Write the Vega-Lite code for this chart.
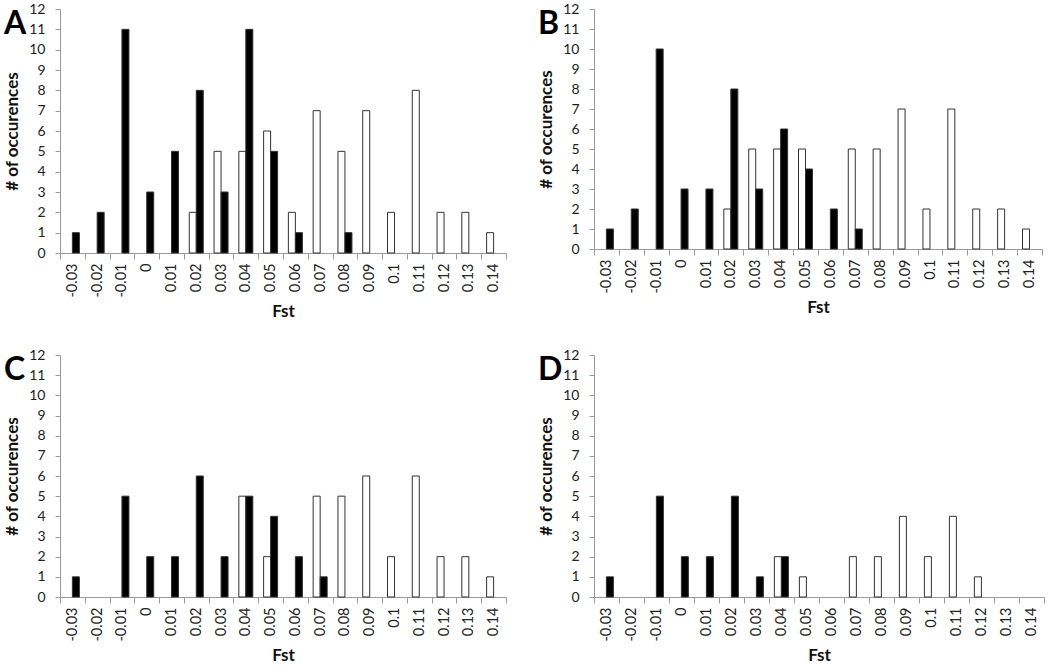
{
  "$schema": "https://vega.github.io/schema/vega-lite/v6.json",
  "padding": {"left": 3, "top": 2, "right": 2, "bottom": 2},
  "background": "white",
  "bounds": "flush",
  "columns": 2,
  "spacing": {"row": 102, "column": 88},
  "config": {
    "font": "Lato",
    "view": {"stroke": null},
    "axis": {"domainColor": "#9a9a9a", "tickColor": "#9a9a9a", "labelColor": "#222222", "titleColor": "#111111", "grid": false, "titleFontWeight": "bold", "titleFontSize": 17, "labelFont": "Lato", "titleFont": "Lato"},
    "axisX": {"labelAngle": -90, "labelFontSize": 14.5, "tickSize": 6, "labelPadding": 4, "titlePadding": 6, "tickBand": "extent"},
    "axisY": {"labelFontSize": 14, "tickSize": 5, "labelPadding": 10, "titlePadding": 7},
    "title": {"anchor": "start", "frame": "group", "fontSize": 32, "fontWeight": "bold", "color": "#000000", "offset": 0, "baseline": "alphabetic", "dx": -56, "dy": 43, "font": "Lato"}
  },
  "data": {"values": [
    {"panel": "A", "series": "white", "fst": "0.02", "count": 2},
    {"panel": "A", "series": "white", "fst": "0.03", "count": 5},
    {"panel": "A", "series": "white", "fst": "0.04", "count": 5},
    {"panel": "A", "series": "white", "fst": "0.05", "count": 6},
    {"panel": "A", "series": "white", "fst": "0.06", "count": 2},
    {"panel": "A", "series": "white", "fst": "0.07", "count": 7},
    {"panel": "A", "series": "white", "fst": "0.08", "count": 5},
    {"panel": "A", "series": "white", "fst": "0.09", "count": 7},
    {"panel": "A", "series": "white", "fst": "0.1", "count": 2},
    {"panel": "A", "series": "white", "fst": "0.11", "count": 8},
    {"panel": "A", "series": "white", "fst": "0.12", "count": 2},
    {"panel": "A", "series": "white", "fst": "0.13", "count": 2},
    {"panel": "A", "series": "white", "fst": "0.14", "count": 1},
    {"panel": "A", "series": "black", "fst": "-0.03", "count": 1},
    {"panel": "A", "series": "black", "fst": "-0.02", "count": 2},
    {"panel": "A", "series": "black", "fst": "-0.01", "count": 11},
    {"panel": "A", "series": "black", "fst": "0", "count": 3},
    {"panel": "A", "series": "black", "fst": "0.01", "count": 5},
    {"panel": "A", "series": "black", "fst": "0.02", "count": 8},
    {"panel": "A", "series": "black", "fst": "0.03", "count": 3},
    {"panel": "A", "series": "black", "fst": "0.04", "count": 11},
    {"panel": "A", "series": "black", "fst": "0.05", "count": 5},
    {"panel": "A", "series": "black", "fst": "0.06", "count": 1},
    {"panel": "A", "series": "black", "fst": "0.08", "count": 1},

    {"panel": "B", "series": "white", "fst": "0.02", "count": 2},
    {"panel": "B", "series": "white", "fst": "0.03", "count": 5},
    {"panel": "B", "series": "white", "fst": "0.04", "count": 5},
    {"panel": "B", "series": "white", "fst": "0.05", "count": 5},
    {"panel": "B", "series": "white", "fst": "0.07", "count": 5},
    {"panel": "B", "series": "white", "fst": "0.08", "count": 5},
    {"panel": "B", "series": "white", "fst": "0.09", "count": 7},
    {"panel": "B", "series": "white", "fst": "0.1", "count": 2},
    {"panel": "B", "series": "white", "fst": "0.11", "count": 7},
    {"panel": "B", "series": "white", "fst": "0.12", "count": 2},
    {"panel": "B", "series": "white", "fst": "0.13", "count": 2},
    {"panel": "B", "series": "white", "fst": "0.14", "count": 1},
    {"panel": "B", "series": "black", "fst": "-0.03", "count": 1},
    {"panel": "B", "series": "black", "fst": "-0.02", "count": 2},
    {"panel": "B", "series": "black", "fst": "-0.01", "count": 10},
    {"panel": "B", "series": "black", "fst": "0", "count": 3},
    {"panel": "B", "series": "black", "fst": "0.01", "count": 3},
    {"panel": "B", "series": "black", "fst": "0.02", "count": 8},
    {"panel": "B", "series": "black", "fst": "0.03", "count": 3},
    {"panel": "B", "series": "black", "fst": "0.04", "count": 6},
    {"panel": "B", "series": "black", "fst": "0.05", "count": 4},
    {"panel": "B", "series": "black", "fst": "0.06", "count": 2},
    {"panel": "B", "series": "black", "fst": "0.07", "count": 1},

    {"panel": "C", "series": "white", "fst": "0.04", "count": 5},
    {"panel": "C", "series": "white", "fst": "0.05", "count": 2},
    {"panel": "C", "series": "white", "fst": "0.07", "count": 5},
    {"panel": "C", "series": "white", "fst": "0.08", "count": 5},
    {"panel": "C", "series": "white", "fst": "0.09", "count": 6},
    {"panel": "C", "series": "white", "fst": "0.1", "count": 2},
    {"panel": "C", "series": "white", "fst": "0.11", "count": 6},
    {"panel": "C", "series": "white", "fst": "0.12", "count": 2},
    {"panel": "C", "series": "white", "fst": "0.13", "count": 2},
    {"panel": "C", "series": "white", "fst": "0.14", "count": 1},
    {"panel": "C", "series": "black", "fst": "-0.03", "count": 1},
    {"panel": "C", "series": "black", "fst": "-0.01", "count": 5},
    {"panel": "C", "series": "black", "fst": "0", "count": 2},
    {"panel": "C", "series": "black", "fst": "0.01", "count": 2},
    {"panel": "C", "series": "black", "fst": "0.02", "count": 6},
    {"panel": "C", "series": "black", "fst": "0.03", "count": 2},
    {"panel": "C", "series": "black", "fst": "0.04", "count": 5},
    {"panel": "C", "series": "black", "fst": "0.05", "count": 4},
    {"panel": "C", "series": "black", "fst": "0.06", "count": 2},
    {"panel": "C", "series": "black", "fst": "0.07", "count": 1},

    {"panel": "D", "series": "white", "fst": "0.04", "count": 2},
    {"panel": "D", "series": "white", "fst": "0.05", "count": 1},
    {"panel": "D", "series": "white", "fst": "0.07", "count": 2},
    {"panel": "D", "series": "white", "fst": "0.08", "count": 2},
    {"panel": "D", "series": "white", "fst": "0.09", "count": 4},
    {"panel": "D", "series": "white", "fst": "0.1", "count": 2},
    {"panel": "D", "series": "white", "fst": "0.11", "count": 4},
    {"panel": "D", "series": "white", "fst": "0.12", "count": 1},
    {"panel": "D", "series": "black", "fst": "-0.03", "count": 1},
    {"panel": "D", "series": "black", "fst": "-0.01", "count": 5},
    {"panel": "D", "series": "black", "fst": "0", "count": 2},
    {"panel": "D", "series": "black", "fst": "0.01", "count": 2},
    {"panel": "D", "series": "black", "fst": "0.02", "count": 5},
    {"panel": "D", "series": "black", "fst": "0.03", "count": 1},
    {"panel": "D", "series": "black", "fst": "0.04", "count": 2}
  ]},
  "concat": [
    {
      "width": 446, "height": 244,
      "title": {"text": "A"},
      "transform": [{"filter": "datum.panel === 'A'"}],
      "mark": {"type": "bar", "stroke": "#333333", "strokeWidth": 1},
      "encoding": {
        "x": {"field": "fst", "type": "nominal", "title": "Fst", "scale": {"domain": ["-0.03","-0.02","-0.01","0","0.01","0.02","0.03","0.04","0.05","0.06","0.07","0.08","0.09","0.1","0.11","0.12","0.13","0.14"], "paddingInner": 0, "paddingOuter": 0}},
        "xOffset": {"field": "series", "type": "nominal", "scale": {"domain": ["white", "black"], "paddingInner": 0, "paddingOuter": 0.77}},
        "y": {"field": "count", "type": "quantitative", "title": "# of occurences", "scale": {"domain": [0, 12]}, "axis": {"values": [0,1,2,3,4,5,6,7,8,9,10,11,12]}},
        "fill": {"field": "series", "type": "nominal", "scale": {"domain": ["white", "black"], "range": ["#ffffff", "#000000"]}, "legend": null}
      }
    },
    {
      "width": 448, "height": 240,
      "title": {"text": "B"},
      "transform": [{"filter": "datum.panel === 'B'"}],
      "mark": {"type": "bar", "stroke": "#333333", "strokeWidth": 1},
      "encoding": {
        "x": {"field": "fst", "type": "nominal", "title": "Fst", "scale": {"domain": ["-0.03","-0.02","-0.01","0","0.01","0.02","0.03","0.04","0.05","0.06","0.07","0.08","0.09","0.1","0.11","0.12","0.13","0.14"], "paddingInner": 0, "paddingOuter": 0}},
        "xOffset": {"field": "series", "type": "nominal", "scale": {"domain": ["white", "black"], "paddingInner": 0, "paddingOuter": 0.77}},
        "y": {"field": "count", "type": "quantitative", "title": "# of occurences", "scale": {"domain": [0, 12]}, "axis": {"values": [0,1,2,3,4,5,6,7,8,9,10,11,12]}},
        "fill": {"field": "series", "type": "nominal", "scale": {"domain": ["white", "black"], "range": ["#ffffff", "#000000"]}, "legend": null}
      }
    },
    {
      "width": 446, "height": 242,
      "title": {"text": "C"},
      "transform": [{"filter": "datum.panel === 'C'"}],
      "mark": {"type": "bar", "stroke": "#333333", "strokeWidth": 1},
      "encoding": {
        "x": {"field": "fst", "type": "nominal", "title": "Fst", "scale": {"domain": ["-0.03","-0.02","-0.01","0","0.01","0.02","0.03","0.04","0.05","0.06","0.07","0.08","0.09","0.1","0.11","0.12","0.13","0.14"], "paddingInner": 0, "paddingOuter": 0}},
        "xOffset": {"field": "series", "type": "nominal", "scale": {"domain": ["white", "black"], "paddingInner": 0, "paddingOuter": 0.77}},
        "y": {"field": "count", "type": "quantitative", "title": "# of occurences", "scale": {"domain": [0, 12]}, "axis": {"values": [0,1,2,3,4,5,6,7,8,9,10,11,12]}},
        "fill": {"field": "series", "type": "nominal", "scale": {"domain": ["white", "black"], "range": ["#ffffff", "#000000"]}, "legend": null}
      }
    },
    {
      "width": 450, "height": 242,
      "title": {"text": "D"},
      "transform": [{"filter": "datum.panel === 'D'"}],
      "mark": {"type": "bar", "stroke": "#333333", "strokeWidth": 1},
      "encoding": {
        "x": {"field": "fst", "type": "nominal", "title": "Fst", "scale": {"domain": ["-0.03","-0.02","-0.01","0","0.01","0.02","0.03","0.04","0.05","0.06","0.07","0.08","0.09","0.1","0.11","0.12","0.13","0.14"], "paddingInner": 0, "paddingOuter": 0}},
        "xOffset": {"field": "series", "type": "nominal", "scale": {"domain": ["white", "black"], "paddingInner": 0, "paddingOuter": 0.77}},
        "y": {"field": "count", "type": "quantitative", "title": "# of occurences", "scale": {"domain": [0, 12]}, "axis": {"values": [0,1,2,3,4,5,6,7,8,9,10,11,12]}},
        "fill": {"field": "series", "type": "nominal", "scale": {"domain": ["white", "black"], "range": ["#ffffff", "#000000"]}, "legend": null}
      }
    }
  ]
}
